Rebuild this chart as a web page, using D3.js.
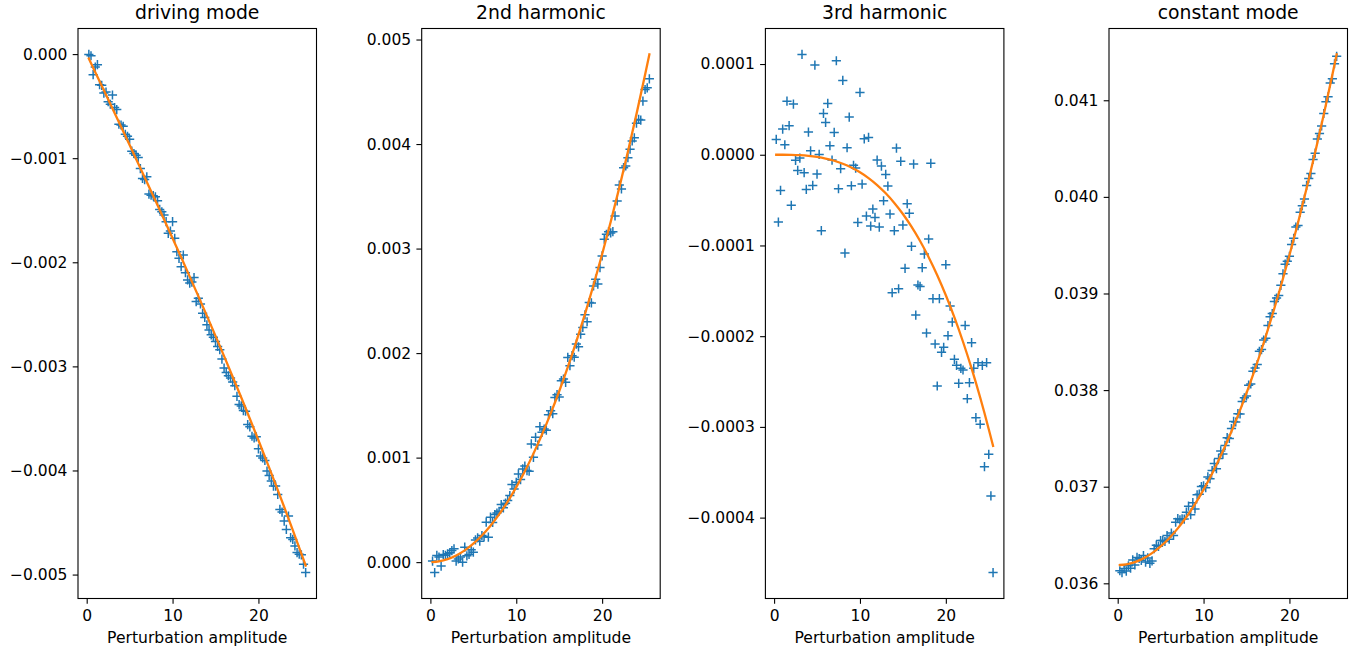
<!DOCTYPE html>
<html>
<head>
<meta charset="utf-8">
<script src="https://cdn.jsdelivr.net/npm/d3@7"></script>
<style>
  body { margin: 0; background: #fff; }
  text { font-family: "DejaVu Sans", sans-serif; fill: #000; }
</style>
</head>
<body>
<svg id="fig" width="1355" height="653"></svg>
<script>
// Perturbation amplitudes shared by every panel
const amplitude = [
  0.25, 0.5, 0.75, 1, 1.25, 1.5, 1.75, 2, 2.25, 2.5,
  2.75, 3, 3.25, 3.5, 3.75, 4, 4.25, 4.5, 4.75, 5,
  5.25, 5.5, 5.75, 6, 6.25, 6.5, 6.75, 7, 7.25, 7.5,
  7.75, 8, 8.25, 8.5, 8.75, 9, 9.25, 9.5, 9.75, 10,
  10.25, 10.5, 10.75, 11, 11.25, 11.5, 11.75, 12, 12.25, 12.5,
  12.75, 13, 13.25, 13.5, 13.75, 14, 14.25, 14.5, 14.75, 15,
  15.25, 15.5, 15.75, 16, 16.25, 16.5, 16.75, 17, 17.25, 17.5,
  17.75, 18, 18.25, 18.5, 18.75, 19, 19.25, 19.5, 19.75, 20,
  20.25, 20.5, 20.75, 21, 21.25, 21.5, 21.75, 22, 22.25, 22.5,
  22.75, 23, 23.25, 23.5, 23.75, 24, 24.25, 24.5, 24.75, 25,
  25.25, 25.5
];

// Measured mode amplitudes
const drivingMode = [
  -0.003e-3, -0.016e-3, -0.198e-3, -0.125e-3, -0.102e-3, -0.294e-3, -0.300e-3, -0.374e-3, -0.364e-3, -0.457e-3,
  -0.482e-3, -0.393e-3, -0.514e-3, -0.533e-3, -0.674e-3, -0.681e-3, -0.693e-3, -0.770e-3, -0.789e-3, -0.818e-3,
  -0.933e-3, -0.955e-3, -0.971e-3, -0.994e-3, -1.100e-3, -1.195e-3, -1.205e-3, -1.179e-3, -1.345e-3, -1.355e-3,
  -1.360e-3, -1.371e-3, -1.409e-3, -1.492e-3, -1.515e-3, -1.546e-3, -1.610e-3, -1.722e-3, -1.700e-3, -1.610e-3,
  -1.770e-3, -1.898e-3, -1.962e-3, -2.042e-3, -1.930e-3, -2.100e-3, -2.169e-3, -2.200e-3, -2.190e-3, -2.147e-3,
  -2.377e-3, -2.345e-3, -2.400e-3, -2.490e-3, -2.530e-3, -2.601e-3, -2.650e-3, -2.697e-3, -2.719e-3, -2.760e-3,
  -2.808e-3, -2.840e-3, -2.930e-3, -3.016e-3, -3.058e-3, -3.090e-3, -3.112e-3, -3.150e-3, -3.185e-3, -3.288e-3,
  -3.367e-3, -3.380e-3, -3.425e-3, -3.431e-3, -3.559e-3, -3.581e-3, -3.671e-3, -3.687e-3, -3.677e-3, -3.792e-3,
  -3.860e-3, -3.879e-3, -3.904e-3, -4.006e-3, -4.048e-3, -4.100e-3, -4.150e-3, -4.150e-3, -4.230e-3, -4.374e-3,
  -4.400e-3, -4.486e-3, -4.566e-3, -4.438e-3, -4.646e-3, -4.662e-3, -4.725e-3, -4.789e-3, -4.805e-3, -4.810e-3,
  -4.901e-3, -4.981e-3
];

const secondHarmonic = [
  0.010e-3, -0.100e-3, 0.064e-3, 0.048e-3, -0.038e-3, 0.073e-3, 0.065e-3, 0.080e-3, 0.089e-3, 0.111e-3,
  0.127e-3, 0.010e-3, 0.030e-3, 0.048e-3, 0.000e-3, 0.143e-3, 0.060e-3, 0.073e-3, 0.118e-3, 0.095e-3,
  0.213e-3, 0.232e-3, 0.200e-3, 0.255e-3, 0.245e-3, 0.382e-3, 0.239e-3, 0.430e-3, 0.380e-3, 0.455e-3,
  0.470e-3, 0.487e-3, 0.551e-3, 0.520e-3, 0.564e-3, 0.589e-3, 0.637e-3, 0.742e-3, 0.700e-3, 0.764e-3,
  0.844e-3, 0.790e-3, 0.892e-3, 0.920e-3, 0.876e-3, 0.870e-3, 1.131e-3, 1.003e-3, 1.194e-3, 1.120e-3,
  1.296e-3, 1.242e-3, 1.274e-3, 1.262e-3, 1.411e-3, 1.449e-3, 1.420e-3, 1.576e-3, 1.602e-3, 1.580e-3,
  1.736e-3, 1.752e-3, 1.720e-3, 1.959e-3, 1.879e-3, 1.975e-3, 1.960e-3, 2.086e-3, 2.060e-3, 2.181e-3,
  2.245e-3, 2.366e-3, 2.300e-3, 2.484e-3, 2.480e-3, 2.643e-3, 2.707e-3, 2.660e-3, 2.818e-3, 2.930e-3,
  3.089e-3, 3.137e-3, 3.162e-3, 3.150e-3, 3.162e-3, 3.312e-3, 3.455e-3, 3.608e-3, 3.570e-3, 3.774e-3,
  3.790e-3, 3.869e-3, 3.950e-3, 4.029e-3, 4.060e-3, 4.200e-3, 4.236e-3, 4.229e-3, 4.411e-3, 4.522e-3,
  4.538e-3, 4.624e-3
];

const thirdHarmonic = [
  0.169e-4, -0.742e-4, -0.393e-4, 0.283e-4, 0.110e-4, 0.591e-4, 0.320e-4, -0.558e-4, 0.558e-4, -0.062e-4,
  -0.173e-4, -0.037e-4, 1.106e-4, -0.198e-4, -0.382e-4, 0.250e-4, 0.044e-4, -0.338e-4, 0.988e-4, -0.213e-4,
  0.004e-4, -0.837e-4, 0.456e-4, 0.356e-4, 0.566e-4, 0.099e-4, -0.059e-4, 0.246e-4, 1.036e-4, -0.375e-4,
  -0.154e-4, 0.819e-4, -1.084e-4, 0.077e-4, 0.415e-4, -0.342e-4, -0.117e-4, -0.147e-4, -0.746e-4, 0.687e-4,
  -0.323e-4, 0.176e-4, -0.676e-4, 0.191e-4, -0.786e-4, -0.599e-4, -0.691e-4, -0.059e-4, -0.797e-4, -0.125e-4,
  -0.507e-4, -0.217e-4, -0.345e-4, -0.654e-4, -1.521e-4, -0.837e-4, 0.073e-4, -1.477e-4, -0.073e-4, -0.775e-4,
  -1.252e-4, -0.540e-4, -0.646e-4, -1.010e-4, -0.103e-4, -1.767e-4, -1.436e-4, -1.451e-4, -1.245e-4, -1.095e-4,
  -1.965e-4, -0.929e-4, -0.095e-4, -1.587e-4, -2.086e-4, -2.549e-4, -1.587e-4, -2.178e-4, -2.123e-4, -1.212e-4,
  -1.994e-4, -1.668e-4, -1.844e-4, -2.255e-4, -2.321e-4, -2.520e-4, -2.354e-4, -2.373e-4, -1.881e-4, -2.689e-4,
  -2.512e-4, -2.072e-4, -2.354e-4, -2.898e-4, -2.292e-4, -2.971e-4, -2.321e-4, -3.438e-4, -2.292e-4, -3.302e-4,
  -3.761e-4, -4.606e-4
];

const constantMode = [
  36.130e-3, 36.111e-3, 36.153e-3, 36.127e-3, 36.181e-3, 36.156e-3, 36.242e-3, 36.190e-3, 36.268e-3, 36.257e-3,
  36.237e-3, 36.288e-3, 36.220e-3, 36.263e-3, 36.207e-3, 36.232e-3, 36.358e-3, 36.395e-3, 36.383e-3, 36.442e-3,
  36.442e-3, 36.433e-3, 36.494e-3, 36.457e-3, 36.521e-3, 36.496e-3, 36.632e-3, 36.669e-3, 36.657e-3, 36.666e-3,
  36.665e-3, 36.736e-3, 36.798e-3, 36.711e-3, 36.835e-3, 36.770e-3, 36.916e-3, 36.923e-3, 37.001e-3, 37.010e-3,
  36.990e-3, 37.101e-3, 37.083e-3, 37.167e-3, 37.241e-3, 37.186e-3, 37.292e-3, 37.370e-3, 37.338e-3, 37.427e-3,
  37.508e-3, 37.499e-3, 37.602e-3, 37.676e-3, 37.670e-3, 37.756e-3, 37.753e-3, 37.881e-3, 37.920e-3, 37.939e-3,
  38.051e-3, 38.063e-3, 38.196e-3, 38.230e-3, 38.265e-3, 38.402e-3, 38.419e-3, 38.518e-3, 38.537e-3, 38.668e-3,
  38.760e-3, 38.793e-3, 38.917e-3, 38.952e-3, 38.978e-3, 39.085e-3, 39.204e-3, 39.303e-3, 39.334e-3, 39.385e-3,
  39.508e-3, 39.572e-3, 39.687e-3, 39.703e-3, 39.840e-3, 39.909e-3, 39.978e-3, 40.119e-3, 40.190e-3, 40.243e-3,
  40.387e-3, 40.452e-3, 40.598e-3, 40.655e-3, 40.734e-3, 40.863e-3, 40.984e-3, 41.036e-3, 41.179e-3, 41.223e-3,
  41.378e-3, 41.455e-3
];

// Fitted curves, sampled along the amplitude axis
const fitAmplitude = [0.25, 1, 2, 3, 4, 5, 6, 7, 8, 9, 10, 11, 12, 13, 14, 15, 16, 17, 18, 19, 20, 21, 22, 23, 24, 25, 25.5];

const drivingFit = [
  -0.0435e-3, -0.1740e-3, -0.3482e-3, -0.5228e-3, -0.6978e-3, -0.8736e-3, -1.0502e-3, -1.2278e-3, -1.4067e-3,
  -1.5869e-3, -1.7687e-3, -1.9522e-3, -2.1376e-3, -2.3251e-3, -2.5148e-3, -2.7069e-3, -2.9016e-3, -3.0990e-3,
  -3.2994e-3, -3.5029e-3, -3.7096e-3, -3.9198e-3, -4.1336e-3, -4.3512e-3, -4.5727e-3, -4.7984e-3, -4.9128e-3
];

const secondFit = [
  0.0004e-3, 0.0070e-3, 0.0281e-3, 0.0633e-3, 0.1129e-3, 0.1768e-3, 0.2554e-3, 0.3485e-3, 0.4564e-3,
  0.5792e-3, 0.7171e-3, 0.8700e-3, 1.0381e-3, 1.2216e-3, 1.4206e-3, 1.6351e-3, 1.8654e-3, 2.1115e-3,
  2.3733e-3, 2.6514e-3, 2.9456e-3, 3.2561e-3, 3.5829e-3, 3.9262e-3, 4.2863e-3, 4.6629e-3, 4.8576e-3
];

const thirdFit = [
  0.0000e-4, -0.0002e-4, -0.0015e-4, -0.0052e-4, -0.0124e-4, -0.0242e-4, -0.0418e-4, -0.0664e-4, -0.0991e-4,
  -0.1411e-4, -0.1936e-4, -0.2577e-4, -0.3345e-4, -0.4253e-4, -0.5312e-4, -0.6534e-4, -0.7929e-4, -0.9511e-4,
  -1.1290e-4, -1.3278e-4, -1.5487e-4, -1.7928e-4, -2.0614e-4, -2.3555e-4, -2.6764e-4, -3.0252e-4, -3.2100e-4
];

const constantFit = [
  36.1895e-3, 36.1966e-3, 36.2196e-3, 36.2580e-3, 36.3120e-3, 36.3817e-3, 36.4672e-3, 36.5686e-3, 36.6862e-3,
  36.8200e-3, 36.9700e-3, 37.1365e-3, 37.3196e-3, 37.5193e-3, 37.7360e-3, 37.9694e-3, 38.2200e-3, 38.4877e-3,
  38.7728e-3, 39.0753e-3, 39.3953e-3, 39.7330e-3, 40.0885e-3, 40.4619e-3, 40.8534e-3, 41.2630e-3, 41.4747e-3
];

// Axis ticks
const amplitudeTicks = [0, 10, 20];
const drivingTicks = [0, -0.001, -0.002, -0.003, -0.004, -0.005];
const secondTicks = [0, 0.001, 0.002, 0.003, 0.004, 0.005];
const thirdTicks = [0.0001, 0, -0.0001, -0.0002, -0.0003, -0.0004];
const constantTicks = [0.036, 0.037, 0.038, 0.039, 0.040, 0.041];

const titles = ["driving mode", "2nd harmonic", "3rd harmonic", "constant mode"];
const xLabel = "Perturbation amplitude";

const panels = [
  { title: titles[0], values: drivingMode,    fit: drivingFit,  ticks: drivingTicks,  fmt: ".3f" },
  { title: titles[1], values: secondHarmonic, fit: secondFit,   ticks: secondTicks,   fmt: ".3f" },
  { title: titles[2], values: thirdHarmonic,  fit: thirdFit,    ticks: thirdTicks,    fmt: ".4f" },
  { title: titles[3], values: constantMode,   fit: constantFit, ticks: constantTicks, fmt: ".3f" }
];

// Layout
const axLeft = [78, 421.7, 765.4, 1109];
const axWidth = 238.5;
const axTop = 28.5;
const axBottom = 598.5;
const tickLen = 5.3;
const tickFont = 15.5;

const blue = "#1f77b4";
const orange = "#ff7f0e";

// Autoscale with a 5% margin on each side
function padded(ext) {
  const span = ext[1] - ext[0];
  return [ext[0] - 0.05 * span, ext[1] + 0.05 * span];
}

const svg = d3.select("#fig");
const plusPath = "M-4.6,0H4.6M0,-4.6V4.6";

panels.forEach((p, i) => {
  const left = axLeft[i];
  const right = left + axWidth;
  const x = d3.scaleLinear()
    .domain(padded(d3.extent(amplitude.concat(fitAmplitude))))
    .range([left, right]);
  const y = d3.scaleLinear()
    .domain(padded(d3.extent(p.values.concat(p.fit))))
    .range([axBottom, axTop]);

  const g = svg.append("g");

  // measured points
  g.append("g")
    .selectAll("path")
    .data(amplitude.map((a, k) => [a, p.values[k]]))
    .join("path")
    .attr("d", plusPath)
    .attr("transform", d => `translate(${x(d[0])},${y(d[1])})`)
    .attr("fill", "none")
    .attr("stroke", blue)
    .attr("stroke-width", 1.5);

  // fitted curve
  const line = d3.line()
    .x(d => x(d[0]))
    .y(d => y(d[1]))
    .curve(d3.curveMonotoneX);
  g.append("path")
    .datum(fitAmplitude.map((a, k) => [a, p.fit[k]]))
    .attr("d", line)
    .attr("fill", "none")
    .attr("stroke", orange)
    .attr("stroke-width", 2.3)
    .attr("stroke-linecap", "square");

  // frame
  g.append("rect")
    .attr("x", left).attr("y", axTop)
    .attr("width", axWidth).attr("height", axBottom - axTop)
    .attr("fill", "none")
    .attr("stroke", "#000")
    .attr("stroke-width", 1.1);

  // axes
  const xAxis = g.append("g")
    .attr("transform", `translate(0,${axBottom})`)
    .call(d3.axisBottom(x).tickValues(amplitudeTicks).tickFormat(d3.format("d"))
      .tickSize(tickLen).tickPadding(6.6));
  const yAxis = g.append("g")
    .attr("transform", `translate(${left},0)`)
    .call(d3.axisLeft(y).tickValues(p.ticks).tickFormat(d3.format(p.fmt))
      .tickSize(tickLen).tickPadding(5.3));

  [xAxis, yAxis].forEach(ax => {
    ax.select(".domain").remove();
    ax.attr("font-family", null).attr("font-size", null);
    ax.selectAll(".tick line").attr("stroke", "#000").attr("stroke-width", 1.1);
    ax.selectAll(".tick text")
      .attr("fill", "#000")
      .style("font-size", tickFont + "px")
      .style("font-family", '"DejaVu Sans", sans-serif');
  });

  // title and axis label
  g.append("text")
    .attr("x", (left + right) / 2)
    .attr("y", 19)
    .attr("text-anchor", "middle")
    .style("font-size", "18.8px")
    .text(p.title);

  g.append("text")
    .attr("x", (left + right) / 2)
    .attr("y", 643)
    .attr("text-anchor", "middle")
    .style("font-size", "15.6px")
    .text(xLabel);
});
</script>
</body>
</html>
